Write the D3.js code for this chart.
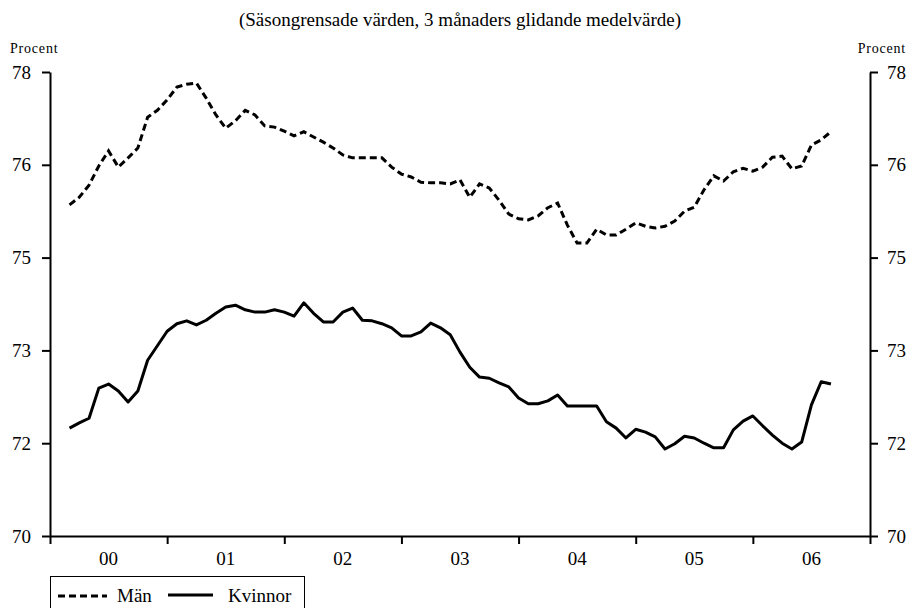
<!DOCTYPE html>
<html>
<head>
<meta charset="utf-8">
<script src="https://cdn.jsdelivr.net/npm/d3@7"></script>
<style>
body { margin: 0; background: #fff; }
</style>
</head>
<body>
<svg width="908" height="608"></svg>
<script>
// years on the x axis, months counted from jan 2000
const years = ["00", "01", "02", "03", "04", "05", "06"];
const firstMonth = 2; // first average: mars 2000

const man = [75.71, 75.84, 76.05, 76.38, 76.64, 76.36, 76.52, 76.69, 77.22,
    77.34, 77.52, 77.74, 77.79, 77.81, 77.55, 77.26, 77.03, 77.16, 77.34,
    77.26, 77.07, 77.05, 76.98, 76.90, 76.97, 76.88, 76.79, 76.69, 76.57,
    76.52, 76.52, 76.52, 76.52, 76.36, 76.24, 76.19, 76.10, 76.09, 76.09,
    76.07, 76.14, 75.84, 76.07, 76.00, 75.79, 75.55, 75.47, 75.45, 75.52,
    75.66, 75.74, 75.36, 75.05, 75.05, 75.29, 75.19, 75.19, 75.29, 75.40,
    75.34, 75.31, 75.34, 75.43, 75.60, 75.67, 75.97, 76.21, 76.12, 76.28,
    76.34, 76.29, 76.36, 76.53, 76.55, 76.33, 76.38, 76.74, 76.83, 76.97];

const women = [71.86, 71.95, 72.03, 72.55, 72.62, 72.50, 72.31, 72.50, 73.03,
    73.28, 73.53, 73.66, 73.71, 73.64, 73.72, 73.84, 73.95, 73.98, 73.90,
    73.86, 73.86, 73.90, 73.86, 73.79, 74.02, 73.84, 73.69, 73.69, 73.86,
    73.93, 73.72, 73.71, 73.66, 73.59, 73.45, 73.45, 73.52, 73.67, 73.59,
    73.47, 73.17, 72.91, 72.74, 72.72, 72.64, 72.57, 72.38, 72.28, 72.28,
    72.33, 72.43, 72.24, 72.24, 72.24, 72.24, 71.97, 71.86, 71.69, 71.84,
    71.79, 71.71, 71.50, 71.59, 71.72, 71.69, 71.60, 71.52, 71.52, 71.83,
    71.98, 72.07, 71.90, 71.74, 71.60, 71.50, 71.62, 72.26, 72.66, 72.62];

const yTicks = [70, 71.6, 73.2, 74.8, 76.4, 78];
const seriesNames = ["Män", "Kvinnor"];

const serif = '"Liberation Serif", "Times New Roman", serif';
const svg = d3.select("svg").attr("font-family", serif);
const plotLeft = 50, plotRight = 870, plotTop = 72, plotBottom = 536;

const x = d3.scaleLinear().domain([0, years.length * 12]).range([plotLeft, plotRight]);
const y = d3.scaleLinear().domain([70, 78]).range([plotBottom, plotTop]);

// title
svg.append("text")
    .attr("x", (plotLeft + plotRight) / 2)
    .attr("y", 26)
    .attr("text-anchor", "middle")
    .style("font-size", "19px")
    .text("(Säsongrensade värden, 3 månaders glidande medelvärde)");

// unit labels
svg.append("text").attr("x", 10).attr("y", 53)
    .style("font-size", "14px").style("letter-spacing", "0.8px")
    .text("Procent");
svg.append("text").attr("x", 906).attr("y", 53).attr("text-anchor", "end")
    .style("font-size", "14px").style("letter-spacing", "0.8px")
    .text("Procent");

// y axes
const fmt = d3.format(".0f");
svg.append("g")
    .attr("transform", `translate(${plotLeft},0)`)
    .call(d3.axisLeft(y).tickValues(yTicks).tickFormat(fmt).tickSize(8).tickSizeOuter(0).tickPadding(11));
svg.append("g")
    .attr("transform", `translate(${plotRight},0)`)
    .call(d3.axisRight(y).tickValues(yTicks).tickFormat(fmt).tickSize(8).tickSizeOuter(0).tickPadding(9));

// x axis, ticks between the years
svg.append("g")
    .attr("transform", `translate(0,${plotBottom})`)
    .call(d3.axisBottom(x).tickValues(d3.range(0, years.length * 12 + 1, 12))
        .tickFormat("").tickSize(8).tickSizeOuter(0));

// d3 axes set sans-serif on their groups; put the serif back
svg.selectAll("g").attr("font-family", serif).attr("font-size", 19);
svg.selectAll(".domain, .tick line")
    .attr("stroke", "#000")
    .attr("stroke-width", 2);
svg.selectAll(".tick text").attr("fill", "#000");

svg.append("g").selectAll("text")
    .data(years)
    .enter()
    .append("text")
    .attr("x", (d, i) => x(i * 12 + 6))
    .attr("y", 565)
    .attr("text-anchor", "middle")
    .style("font-size", "19px")
    .text(d => d);

// lines
const line = d3.line()
    .x((d, i) => x(firstMonth + i))
    .y(d => y(d));

svg.append("path")
    .datum(man)
    .attr("d", line)
    .attr("fill", "none")
    .attr("stroke", "#000")
    .attr("stroke-width", 3)
    .attr("stroke-dasharray", "7,4");

svg.append("path")
    .datum(women)
    .attr("d", line)
    .attr("fill", "none")
    .attr("stroke", "#000")
    .attr("stroke-width", 3)
    .attr("stroke-linejoin", "round");

// legend
const legend = svg.append("g");
legend.append("rect")
    .attr("x", 50.5).attr("y", 576.5)
    .attr("width", 254).attr("height", 40)
    .attr("fill", "#fff").attr("stroke", "#000");
legend.append("line")
    .attr("x1", 58).attr("x2", 107).attr("y1", 596).attr("y2", 596)
    .attr("stroke", "#000").attr("stroke-width", 3).attr("stroke-dasharray", "7,4");
legend.append("text").attr("x", 117).attr("y", 602)
    .style("font-size", "19px").text(seriesNames[0]);
legend.append("line")
    .attr("x1", 168).attr("x2", 213).attr("y1", 595).attr("y2", 595)
    .attr("stroke", "#000").attr("stroke-width", 3);
legend.append("text").attr("x", 228).attr("y", 602)
    .style("font-size", "19px").text(seriesNames[1]);
</script>
</body>
</html>
